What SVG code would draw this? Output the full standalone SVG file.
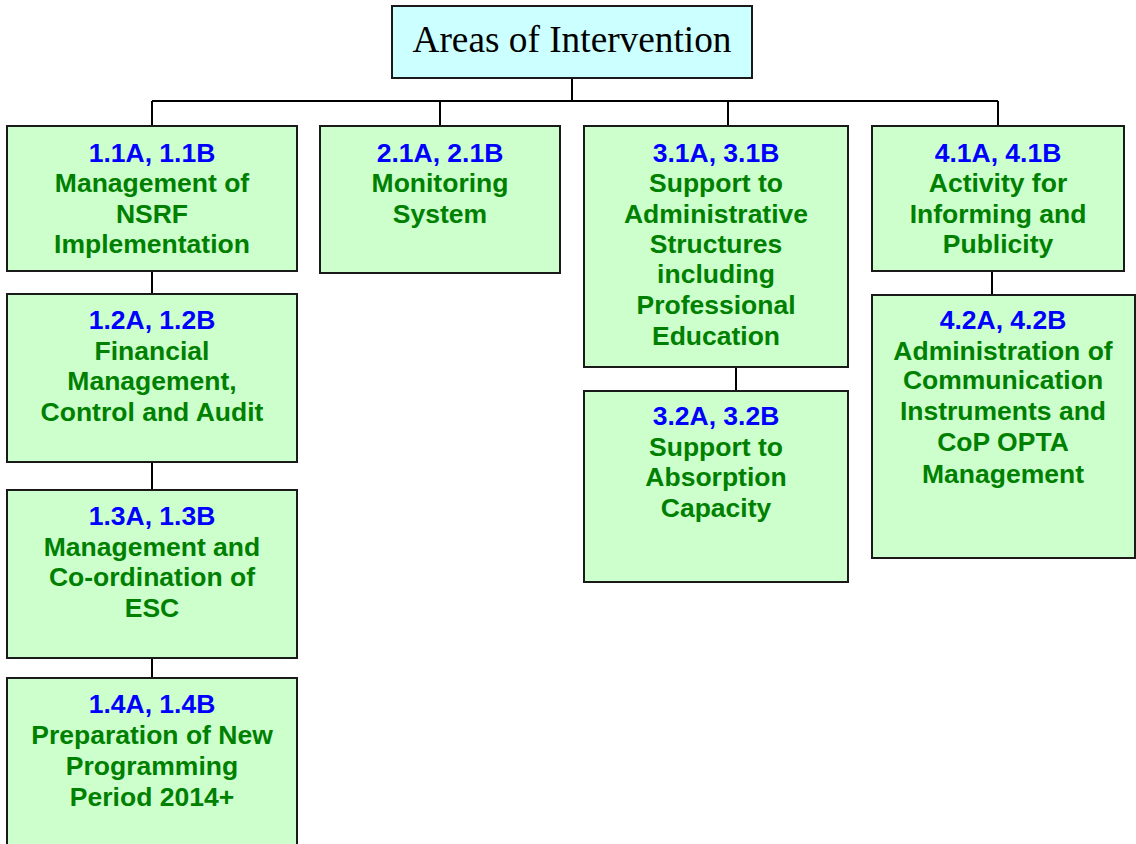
<svg xmlns="http://www.w3.org/2000/svg" width="1136" height="844" viewBox="0 0 1136 844">
<style>
.box{fill:#CCFFCC;stroke:#1a1a1a;stroke-width:2}
.root{fill:#CCFFFF;stroke:#1a1a1a;stroke-width:2}
.t{font-family:"Liberation Sans",Arial,sans-serif;font-weight:bold;font-size:26.5px;text-anchor:middle}
.c{fill:#0000FF}
.g{fill:#008000}
.title{font-family:"Liberation Serif","Times New Roman",serif;font-size:37.3px;text-anchor:middle;fill:#000}
.ln{fill:none;stroke:#000;stroke-width:2}
</style>
<rect width="1136" height="844" fill="#fff"/>
<g id="connectors">
<path class="ln" d="M572 79V101M152 101H998M152 101V126M440 101V126M728 101V126M998 101V126"/>
<path class="ln" d="M152 271V294M152 462V490M152 658V678M736 367V391M992 271V295"/>
</g>
<g id="root">
<rect class="root" x="392" y="6" width="360" height="72"/>
<text class="title" x="572" y="52">Areas of Intervention</text>
</g>
<g id="n11">
<rect class="box" x="7" y="126" width="290" height="145"/>
<text class="t" x="152"><tspan class="c" x="152" y="162">1.1A, 1.1B</tspan><tspan class="g" x="152" y="192">Management of</tspan><tspan class="g" x="152" y="223">NSRF</tspan><tspan class="g" x="152" y="253">Implementation</tspan></text>
</g>
<g id="n12">
<rect class="box" x="7" y="294" width="290" height="168"/>
<text class="t"><tspan class="c" x="152" y="329">1.2A, 1.2B</tspan><tspan class="g" x="152" y="360">Financial</tspan><tspan class="g" x="152" y="390">Management,</tspan><tspan class="g" x="152" y="421">Control and Audit</tspan></text>
</g>
<g id="n13">
<rect class="box" x="7" y="490" width="290" height="168"/>
<text class="t"><tspan class="c" x="152" y="525">1.3A, 1.3B</tspan><tspan class="g" x="152" y="556">Management and</tspan><tspan class="g" x="152" y="586">Co-ordination of</tspan><tspan class="g" x="152" y="617">ESC</tspan></text>
</g>
<g id="n14">
<rect class="box" x="7" y="678" width="290" height="180"/>
<text class="t"><tspan class="c" x="152" y="713">1.4A, 1.4B</tspan><tspan class="g" x="152" y="744">Preparation of New</tspan><tspan class="g" x="152" y="775">Programming</tspan><tspan class="g" x="152" y="806">Period 2014+</tspan></text>
</g>
<g id="n21">
<rect class="box" x="320" y="126" width="240" height="147"/>
<text class="t"><tspan class="c" x="440" y="162">2.1A, 2.1B</tspan><tspan class="g" x="440" y="192">Monitoring</tspan><tspan class="g" x="440" y="223">System</tspan></text>
</g>
<g id="n31">
<rect class="box" x="584" y="126" width="264" height="241"/>
<text class="t"><tspan class="c" x="716" y="162">3.1A, 3.1B</tspan><tspan class="g" x="716" y="192">Support to</tspan><tspan class="g" x="716" y="223">Administrative</tspan><tspan class="g" x="716" y="253">Structures</tspan><tspan class="g" x="716" y="283">including</tspan><tspan class="g" x="716" y="314">Professional</tspan><tspan class="g" x="716" y="345">Education</tspan></text>
</g>
<g id="n32">
<rect class="box" x="584" y="391" width="264" height="191"/>
<text class="t"><tspan class="c" x="716" y="425">3.2A, 3.2B</tspan><tspan class="g" x="716" y="456">Support to</tspan><tspan class="g" x="716" y="486">Absorption</tspan><tspan class="g" x="716" y="517">Capacity</tspan></text>
</g>
<g id="n41">
<rect class="box" x="872" y="126" width="252" height="145"/>
<text class="t"><tspan class="c" x="998" y="162">4.1A, 4.1B</tspan><tspan class="g" x="998" y="192">Activity for</tspan><tspan class="g" x="998" y="223">Informing and</tspan><tspan class="g" x="998" y="253">Publicity</tspan></text>
</g>
<g id="n42">
<rect class="box" x="872" y="295" width="263" height="263"/>
<text class="t"><tspan class="c" x="1003" y="329">4.2A, 4.2B</tspan><tspan class="g" x="1003" y="360">Administration of</tspan><tspan class="g" x="1003" y="389">Communication</tspan><tspan class="g" x="1003" y="420">Instruments and</tspan><tspan class="g" x="1003" y="451">CoP OPTA</tspan><tspan class="g" x="1003" y="483">Management</tspan></text>
</g>
</svg>
